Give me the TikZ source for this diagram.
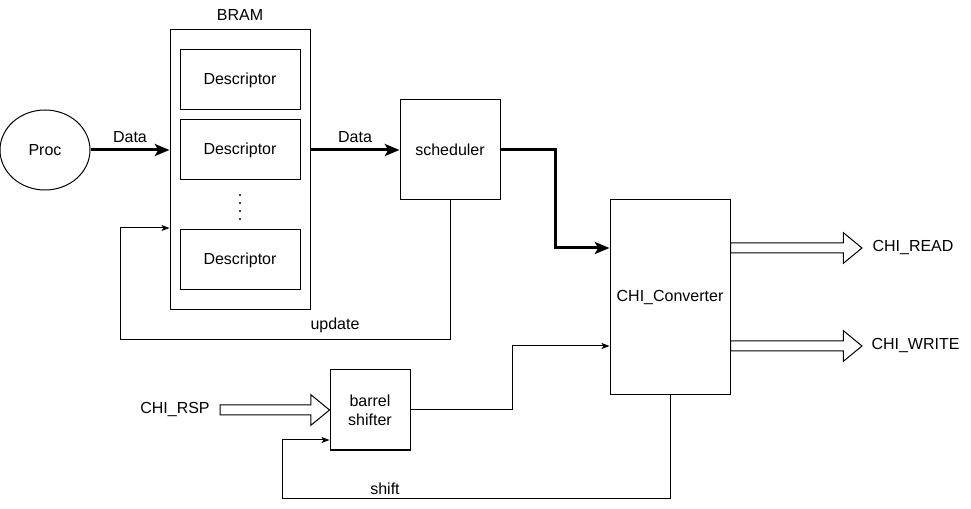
\documentclass[tikz,border=0pt]{standalone}
\usepackage{fontspec}
\setmainfont{Liberation Sans}
\usetikzlibrary{arrows.meta,calc,shapes.geometric}

% hollow wide arrow (draw.io flexArrow), horizontal, from #1 to #2
\newcommand{\flexarrow}[2]{%
  \draw [line width=0.75pt] let \p1=(#1), \p2=(#2) in
    (\x1,\y1+3.75pt) -- (\x2-14pt,\y1+3.75pt) -- (\x2-14pt,\y1+11.5pt) -- (\x2,\y1)
    -- (\x2-14pt,\y1-11.5pt) -- (\x2-14pt,\y1-3.75pt) -- (\x1,\y1-3.75pt) -- cycle ;}

\begin{document}
\begin{tikzpicture}[x=0.75pt,y=0.75pt,yscale=-1,xscale=1,
  font=\fontsize{12}{14.4}\selectfont,
  blk/.style={draw, line width=0.75pt, inner sep=0.75pt, align=center},
  thickflow/.style={line width=2.25pt, -{Stealth[length=11pt,width=9pt,inset=2.5pt]}},
  thinflow/.style={line width=0.75pt, -{Stealth[length=6pt,width=4.5pt,inset=1.5pt]}},
  lbl/.style={inner sep=0.75pt}]
\useasboundingbox (0,0) rectangle (971,509);

%Shape: Ellipse
\node [blk, ellipse, minimum width=67.5pt, minimum height=60pt] (proc) at (45,150) {Proc};
%Shape: Rectangle
\node [blk, minimum width=105pt, minimum height=210pt] (bram) at (240,170) {};
\node [lbl] (bramlbl) at (240,15) {BRAM};
%Shape: Rectangle
\node [blk, minimum width=90pt, minimum height=45pt] (desca) at (240,80) {Descriptor};
\node [blk, minimum width=90pt, minimum height=45pt] (descb) at (240,150) {Descriptor};
\node [blk, minimum width=90pt, minimum height=45pt] (descc) at (240,260) {Descriptor};
\foreach \yy in {195,203,211,219} \fill (240,\yy) circle (0.9pt);
%Shape: Rectangle
\node [blk, minimum width=75pt, minimum height=75pt] (sched) at (450,150) {scheduler};
\node [blk, minimum width=90pt, minimum height=146.25pt] (conv) at (670,297.5) {CHI\_Converter};
\node [blk, minimum width=60pt, minimum height=60pt] (barrel) at (370,410) {barrel\\shifter};

% Text Node
\node [lbl] (chiread) at (913,248) {CHI\_READ};
\node [lbl] (chiwrite) at (915.5,346) {CHI\_WRITE};
\node [lbl] (chirsp) at (175,410) {CHI\_RSP};

\coordinate (readtip) at (862,248);
\coordinate (writetip) at (862,346);
\coordinate (rspfoot) at (220,410);
\coordinate (updcorner) at (120,340);
\coordinate (shiftcorner) at (282,498);

%Straight Lines
\draw [thickflow] (proc.east) -- (proc.east -| bram.west) node [midway, above=4pt, lbl] {Data};
\draw [thickflow] (sched.west -| bram.east) -- (sched.west) node [midway, above=4pt, lbl] {Data};
\draw [thickflow] (sched.east) -- (555,150) |- (conv.west |- chiread);
\draw [thinflow] (sched.south) |- (updcorner) -- (120,228) -- (bram.west |- 0,228);
\node [lbl] (updlbl) at (335,325) {update};
\draw [thinflow] (barrel.east) -- (512,410) |- (conv.west |- chiwrite);
\draw [thinflow] (conv.south) |- (shiftcorner) -- (282,440) -- (barrel.west |- 0,440);
\node [lbl] (shiftlbl) at (385,489) {shift};

%Flex arrows
\flexarrow{conv.east |- chiread}{readtip}
\flexarrow{conv.east |- chiwrite}{writetip}
\flexarrow{rspfoot}{barrel.west}

\end{tikzpicture}
\end{document}
